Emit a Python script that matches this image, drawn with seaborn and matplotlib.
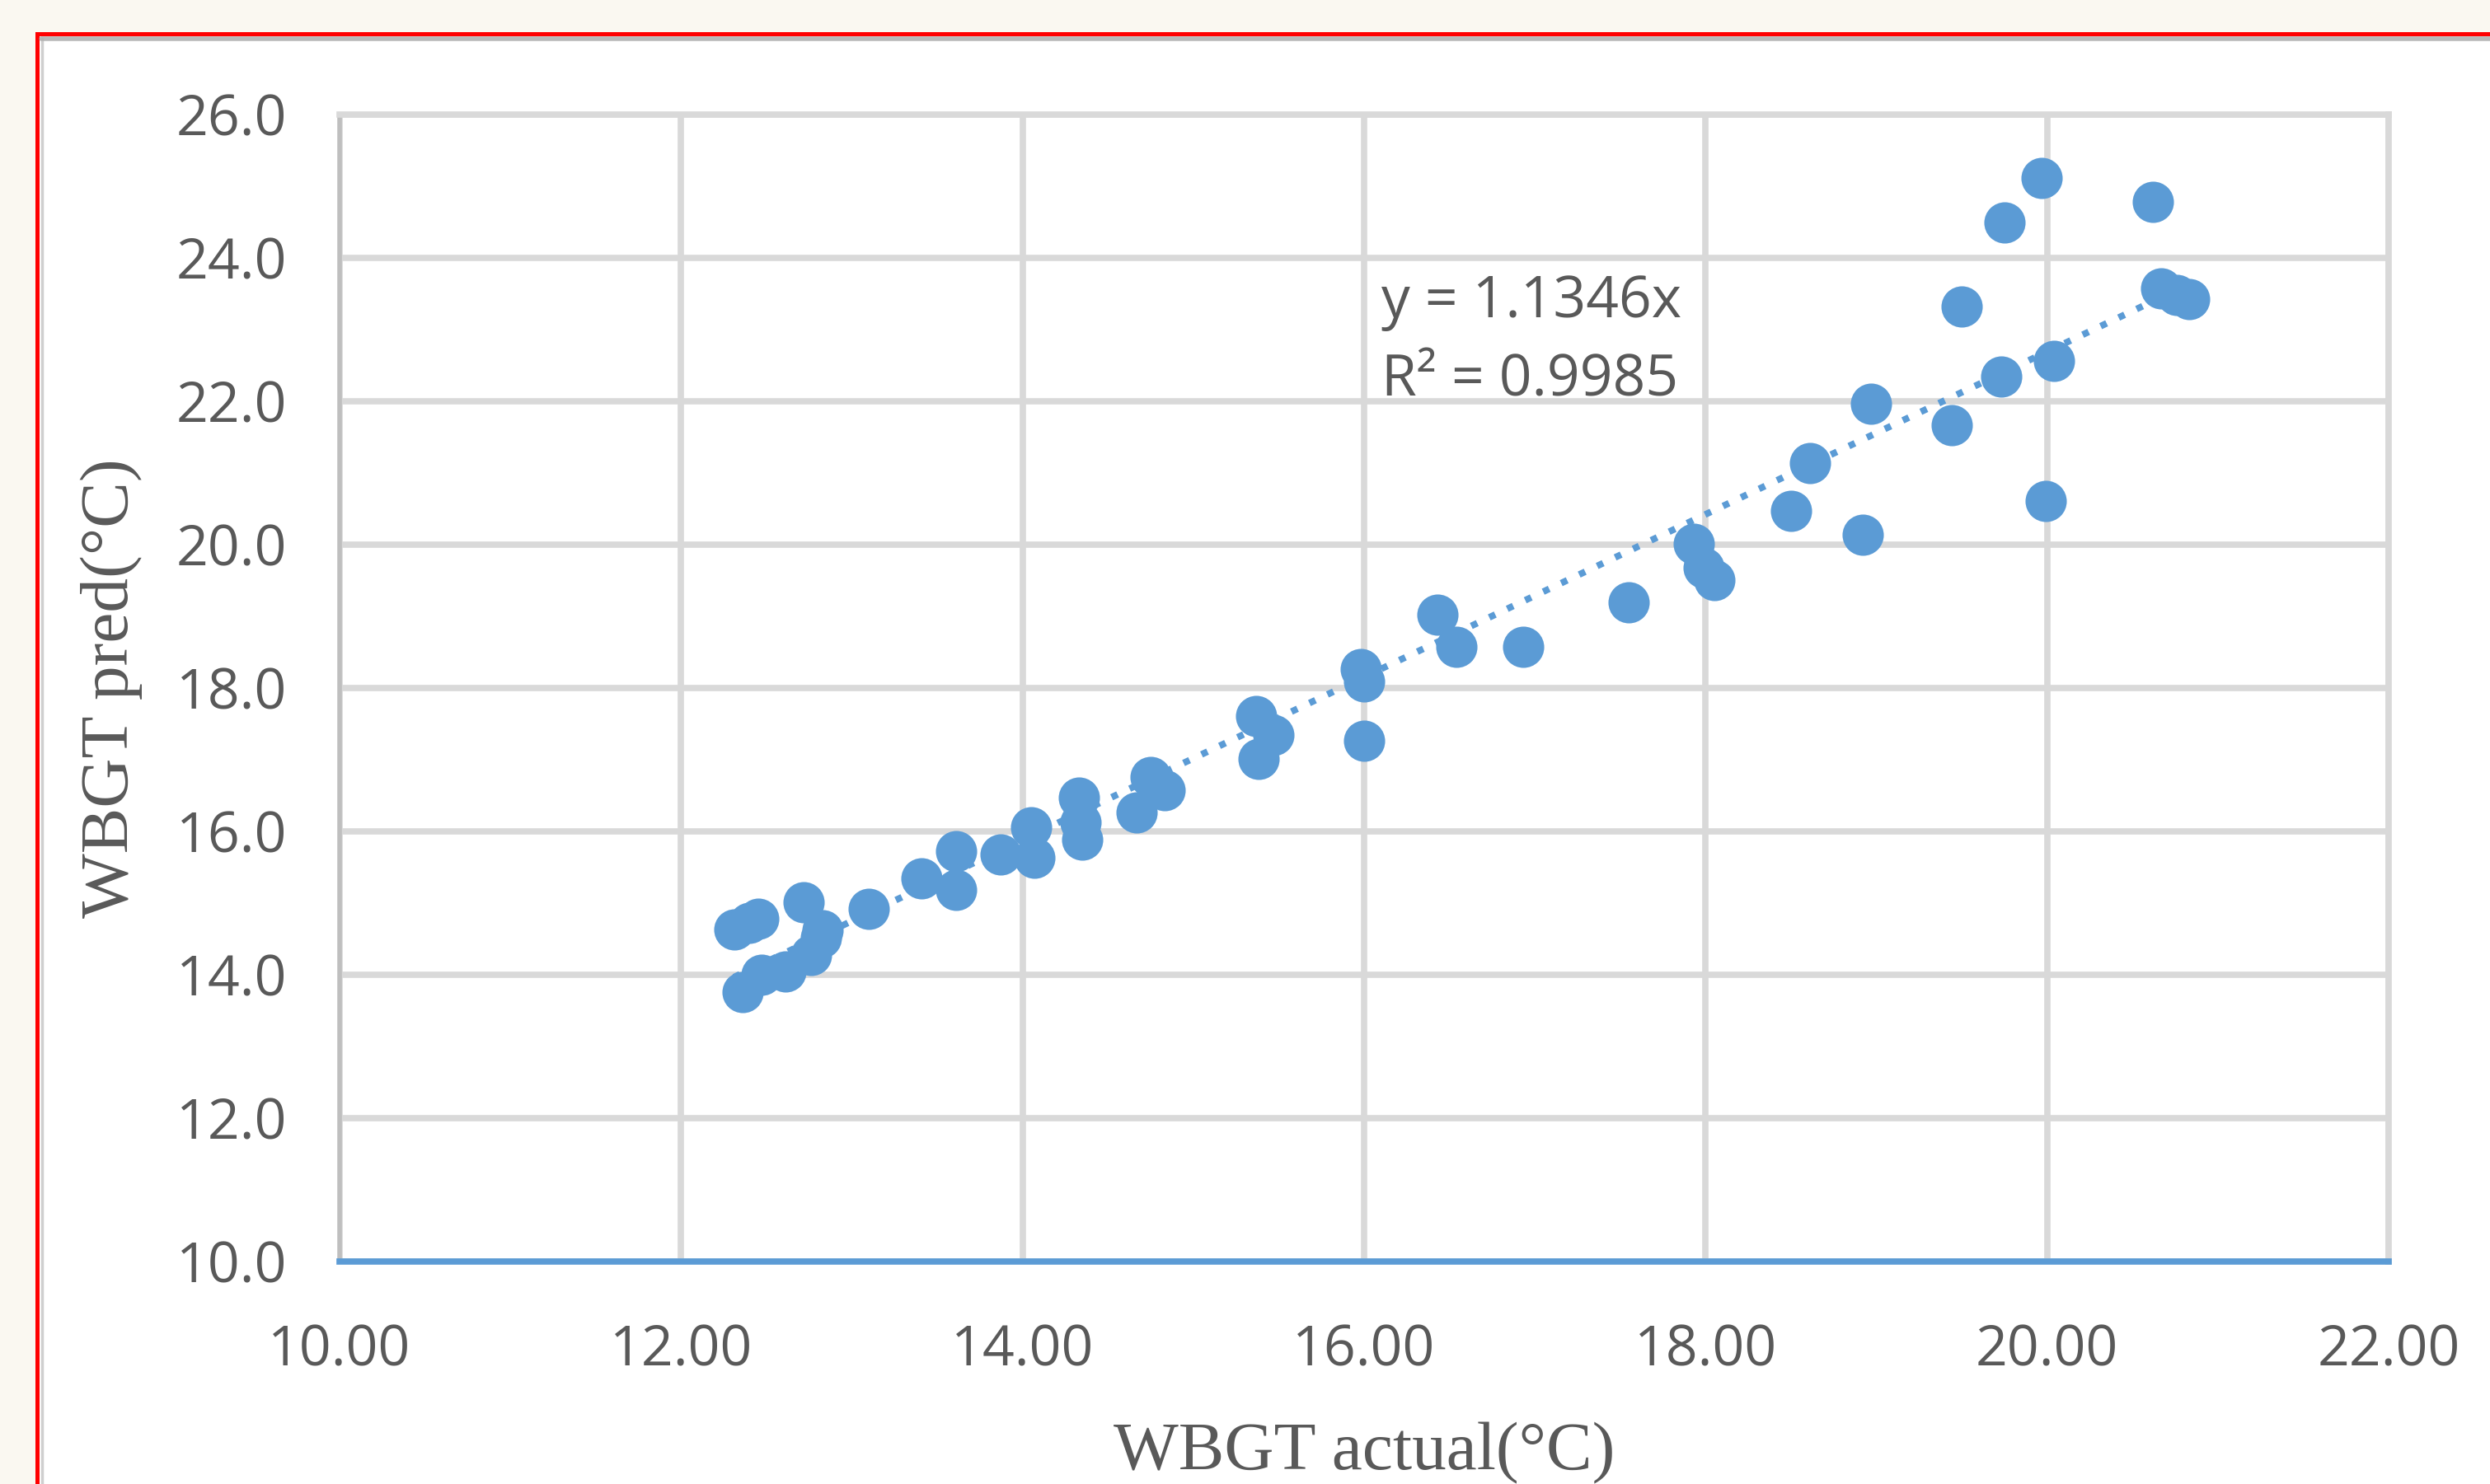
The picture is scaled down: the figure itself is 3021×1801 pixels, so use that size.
import numpy as np
import matplotlib
matplotlib.use("Agg")
import matplotlib.pyplot as plt
from matplotlib.patches import Rectangle
from matplotlib.lines import Line2D
import seaborn as sns

# values
wbgt_actual = [12.31, 12.45, 12.40, 12.36, 12.47, 12.61, 12.72, 12.76, 12.82, 12.83,
               13.10, 13.41, 13.61, 13.61, 13.87, 14.05, 14.07, 14.33, 14.34, 14.35,
               14.67, 14.75, 14.83, 15.37, 15.38, 15.47, 15.98, 16.00, 16.00, 16.43,
               16.54, 16.93, 17.55, 17.93, 17.99, 18.05, 18.50, 18.61, 18.92, 18.97,
               19.44, 19.50, 19.73, 19.75, 19.97, 19.99, 20.04, 20.62, 20.67, 20.76,
               20.83]
wbgt_pred = [14.63, 14.78, 14.72, 13.76, 14.00, 14.05, 15.01, 14.28, 14.52, 14.62,
             14.92, 15.34, 15.72, 15.18, 15.68, 16.06, 15.63, 16.47, 16.13, 15.88,
             16.27, 16.76, 16.58, 17.61, 17.01, 17.35, 18.27, 18.09, 17.27, 19.02,
             18.58, 18.57, 19.19, 20.01, 19.68, 19.50, 20.47, 21.14, 20.14, 21.96,
             21.67, 23.32, 22.34, 24.49, 25.11, 20.61, 22.56, 24.78, 23.58, 23.48,
             23.43]
trend_slope = 1.1346
trend_r2 = 0.9985
x_ticks = [10, 12, 14, 16, 18, 20, 22]
y_ticks = [10, 12, 14, 16, 18, 20, 22, 24, 26]

BLUE = "#5B9BD5"
GRID = "#D9D9D9"
TEXT = "#595959"

sns.set_theme(style="whitegrid")
plt.rcParams['font.family'] = ['Open Sans', 'DejaVu Sans']

W, H = 3021, 1801
fig = plt.figure(figsize=(W / 100, H / 100), dpi=100, facecolor="#FAF8F1")

# chart frame (red border of the screenshot, with a soft shadow inside)
fig.patches.append(Rectangle((45 / W, -0.2), 1.3, 1.2 - 41 / H, transform=fig.transFigure,
                             facecolor="white", edgecolor="#FF0000", linewidth=3.6, zorder=-5))
fig.lines.append(Line2D([50 / W, 1.0], [1 - 47 / H, 1 - 47 / H], transform=fig.transFigure,
                        color="#9A9A9A", linewidth=4, alpha=0.7, zorder=-4))
fig.lines.append(Line2D([51 / W, 51 / W], [0, 1 - 47 / H], transform=fig.transFigure,
                        color="#B0B0B0", linewidth=2.5, alpha=0.6, zorder=-4))

left, right, top, bottom = 412, 2898, 139, 1531
ax = fig.add_axes([left / W, 1 - bottom / H, (right - left) / W, (bottom - top) / H])
ax.set_facecolor("white")

# linear trend through the origin, dotted
x_fit = np.array([min(wbgt_actual), max(wbgt_actual)])
ax.plot(x_fit, trend_slope * x_fit, color=BLUE, linewidth=5.8,
        linestyle=(0, (1, 2)), zorder=2)

sns.scatterplot(x=wbgt_actual, y=wbgt_pred, ax=ax, s=1300, color=BLUE,
                linewidth=0, alpha=1, zorder=3, legend=False)

ax.set_xlim(10, 22)
ax.set_ylim(10, 26)
ax.set_xticks(x_ticks)
ax.set_yticks(y_ticks)
ax.set_xticklabels([f"{v:.2f}" for v in x_ticks])
ax.set_yticklabels([f"{v:.1f}" for v in y_ticks])
ax.tick_params(axis="both", length=0, labelsize=49, colors=TEXT)
ax.tick_params(axis="x", pad=54)
ax.tick_params(axis="y", pad=46)

ax.grid(True, color=GRID, linewidth=5.5)
ax.set_axisbelow(True)
for side in ["top", "right"]:
    ax.spines[side].set_color(GRID)
    ax.spines[side].set_linewidth(5.5)
ax.spines["left"].set_color("#BFBFBF")
ax.spines["left"].set_linewidth(4)
ax.spines["bottom"].set_color(BLUE)
ax.spines["bottom"].set_linewidth(5.5)
ax.spines["bottom"].set_zorder(4)

ax.set_xlabel("WBGT actual(°C)", fontsize=60, color=TEXT,
              family=["Liberation Serif", "DejaVu Serif"])
ax.set_ylabel("WBGT pred(°C)", fontsize=60, color=TEXT,
              family=["Liberation Serif", "DejaVu Serif"])
ax.xaxis.label.set_va("baseline")
ax.xaxis.set_label_coords(0.5, -0.181)
ax.yaxis.label.set_va("center")
ax.yaxis.set_label_coords(-0.1115, 0.5)

ax.text(16.10, 23.17, f"y = {trend_slope}x", fontsize=50, color=TEXT,
        ha="left", va="baseline", zorder=5)
ax.text(16.10, 22.08, f"R² = {trend_r2}", fontsize=50, color=TEXT,
        ha="left", va="baseline", zorder=5)

fig.savefig("out.png", dpi=100, facecolor=fig.get_facecolor())
